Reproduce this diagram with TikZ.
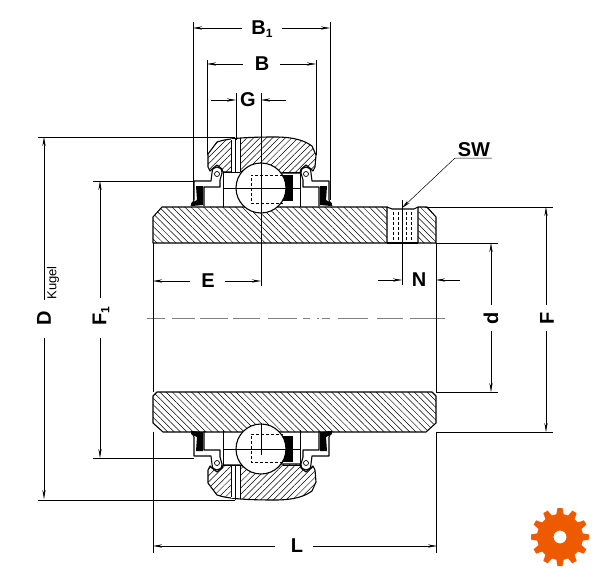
\documentclass[tikz,border=0pt]{standalone}
\usepackage{fontspec}
\setmainfont{Liberation Sans}
\usetikzlibrary{arrows.meta, patterns.meta}
\definecolor{gearorange}{HTML}{EE5A00}

% one seal, left side, in reference pixels
\newcommand{\sealleft}{
    \draw[part] (191,206) -- (194,200) -- (194,181) -- (211,181) -- (212,173)
        .. controls (212,169) and (214,167) .. (217,167)
        .. controls (220,167) and (222,169) .. (222,173)
        -- (220,180) -- (220,187) -- (204,187) -- (204,206);
    \draw[thin part] (217,174) circle (2.5);
    \fill[black] (196,186) -- (203,186) -- (203,205) -- (192,206) -- (191,203) -- (197,200) -- cycle;
    \draw[thin part] (223,172) -- (223,207);
    \draw[thin part] (223,172) -- (240,172);
    \draw[thin part] (223,188) -- (238,188);
}
% outer ring, balls and seals of one half
\newcommand{\bearinghalf}{
    % Outer ring
    \draw[part, pattern={Lines[angle=45,distance=4.5pt,line width=0.5pt]}]
        (208,167) -- (208,154) -- (217,142)
        .. controls (228,138) and (250,137) .. (275,137)
        .. controls (295,137) and (305,141) .. (312,146)
        -- (316,155) -- (315,167) -- (313,171) -- (311,169) -- (306,165) -- (301,169) -- (300,173)
        -- (281,173) -- (261,164) -- (240,172) -- (223,172) -- (222,169) -- (217,165)
        -- (212,169) -- (210,171) -- cycle;
    % Lubrication hole
    \fill[white] (231,139) rectangle (240,172);
    \draw[thin part] (231,140) -- (231,172) (235.5,137.5) -- (235.5,172) (240,138) -- (240,172);
    % Cage
    \fill[black] (283,175) rectangle (293,201);
    % Ball
    \draw[part, fill=white] (261,188) circle (25);
    \draw[hidden] (283,175) -- (251,175) -- (251,203) -- (283,203);
    \draw[thin part] (237,188) -- (285,188);
    \draw[thin part] (300,173) -- (300,207);
    \sealleft
    \begin{scope}[shift={(523,0)}, xscale=-1]
        \sealleft
    \end{scope}
}

\begin{document}
\begin{tikzpicture}[
    x=1pt, y=-1pt,
    part/.style={line width=1.1pt, line join=round},
    thin part/.style={line width=0.7pt},
    hidden/.style={line width=0.6pt, dashed, dash pattern=on 3pt off 2pt},
    thinline/.style={line width=0.5pt},
    edgeline/.style={line width=0.8pt},
    dimline/.style={line width=0.5pt, -{Stealth[length=9pt, width=3.2pt]}},
    shafthatch/.style={part, pattern={Lines[angle=-45,distance=4.5pt,line width=0.5pt]}},
    dimlabel/.style={font=\fontsize{20}{20}\selectfont\bfseries, inner sep=0pt},
    gearfill/.style={fill=gearorange}
]
    \useasboundingbox (0,0) rectangle (600,576);

    % Shaft - top wall
    \draw[shafthatch] (162,207) -- (387,207) -- (387,243) -- (153,243) -- (153,217) -- cycle;
    \draw[shafthatch] (418,207) -- (427,207) -- (436,217) -- (436,243) -- (418,243) -- cycle;
    % Set screw
    \draw[part] (387,207) -- (392,209) -- (414,209) -- (418,207);
    \draw[line width=2pt] (387,243) -- (418,243);
    \foreach \xpos in {393,398,406,411} {
        \draw[hidden] (\xpos,212) -- (\xpos,240);
    }
    % Shaft - bottom wall
    \draw[shafthatch] (157,392) -- (432,392) -- (436,396) -- (436,423) -- (426,432)
        -- (163,432) -- (153,423) -- (153,396) -- cycle;

    % Bearing, both halves
    \bearinghalf
    \begin{scope}[shift={(0,637)}, yscale=-1]
        \bearinghalf
    \end{scope}

    % Center lines
    \foreach \xa/\xb in {147/165,172/195,200/228,233/260,268/297,303/310,317/319,322/330,338/368,377/403,410/445} {
        \draw[thinline, gray] (\xa,318) -- (\xb,318);
    }
    \draw[thinline] (261,93) -- (261,286);
    \draw[thinline] (261,423) -- (261,455);

    % Extension lines
    \draw[thinline] (193,22) -- (193,200);
    \draw[thinline] (330,22) -- (330,200);
    \draw[thinline] (207,60) -- (207,155);
    \draw[thinline] (316,60) -- (316,155);
    \draw[thinline] (236,93) -- (236,140);
    \draw[thinline] (38,137) -- (235,137);
    \draw[thinline] (38,500) -- (235,500);
    \draw[thinline] (93,181) -- (194,181);
    \draw[thinline] (93,458) -- (194,458);
    \draw[thinline] (425,207) -- (553,207);
    \draw[thinline] (436,432) -- (553,432);
    \draw[thinline] (436,243) -- (498,243);
    \draw[thinline] (436,392) -- (498,392);
    \draw[edgeline] (153,243) -- (153,392);
    \draw[edgeline] (436,243) -- (436,392);
    \draw[thinline] (153,432) -- (153,553);
    \draw[thinline] (436,432) -- (436,553);
    \draw[thinline] (402,200) -- (402,285);

    % Dimension B1
    \node[dimlabel] (labelbone) at (262,29) {B\raisebox{-3pt}{\fontsize{12}{12}\selectfont 1}};
    \draw[dimline] (242,28) -- (193,28);
    \draw[dimline] (282,28) -- (330,28);
    % Dimension B
    \node[dimlabel] (labelb) at (262,64) {B};
    \draw[dimline] (243,64) -- (207,64);
    \draw[dimline] (280,64) -- (316,64);
    % Dimension G
    \node[dimlabel] (labelg) at (248,100) {G};
    \draw[dimline] (211,100) -- (236,100);
    \draw[dimline] (286,100) -- (261,100);
    % Dimension E
    \node[dimlabel] (labele) at (208,281) {E};
    \draw[dimline] (190,281) -- (153,281);
    \draw[dimline] (225,281) -- (261,281);
    % Dimension N
    \node[dimlabel] (labeln) at (419,280) {N};
    \draw[dimline] (378,280) -- (402,280);
    \draw[dimline] (460,280) -- (436,280);
    % Dimension L
    \node[dimlabel] (labell) at (297,546) {L};
    \draw[dimline] (275,546) -- (153,546);
    \draw[dimline] (313,546) -- (437,546);
    % Dimension D Kugel
    \node[dimlabel, rotate=90] (labeld) at (44,318) {D};
    \node[rotate=90, inner sep=0pt, font=\fontsize{13}{13}\selectfont] (labelkugel) at (53,283) {Kugel};
    \draw[dimline] (44,300) -- (44,137);
    \draw[dimline] (44,338) -- (44,499);
    % Dimension F1
    \node[dimlabel, rotate=90] (labelfone) at (101,316) {F\raisebox{-3pt}{\fontsize{12}{12}\selectfont 1}};
    \draw[dimline] (100,298) -- (100,181);
    \draw[dimline] (100,338) -- (100,458);
    % Dimension d
    \node[dimlabel, rotate=90] (labeldsmall) at (491,318) {d};
    \draw[dimline] (491,305) -- (491,243);
    \draw[dimline] (491,331) -- (491,392);
    % Dimension F
    \node[dimlabel, rotate=90] (labelf) at (547,318) {F};
    \draw[dimline] (546,305) -- (546,207);
    \draw[dimline] (546,331) -- (546,432);
    % Wrench size
    \node[dimlabel] (labelsw) at (474,150) {SW};
    \draw[dimline] (492,158) -- (455,158) -- (402,208);

    % Gear
    \fill[gearfill, even odd rule] (560,537) circle (23) (560,537) circle (6.5);
    \foreach \ang in {0,30,...,330} {
        \fill[gearfill, rotate around={\ang:(560,537)}] (581,533) -- (589,534.5) -- (589,539.5) -- (581,541) -- cycle;
    }
\end{tikzpicture}
\end{document}
